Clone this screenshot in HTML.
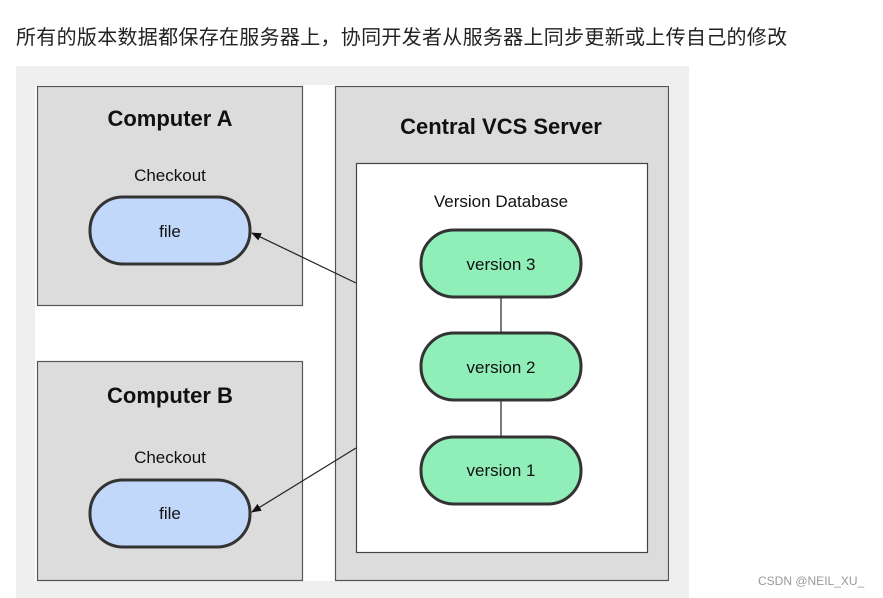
<!DOCTYPE html>
<html><head><meta charset="utf-8"><style>
body{margin:0;width:883px;height:598px;background:#fff;overflow:hidden;position:relative;font-family:"Liberation Sans",Arial,sans-serif}
.t{position:absolute;left:16px;top:21px;font-size:20px;color:#222;font-family:"Liberation Sans","Noto Sans CJK SC",sans-serif;white-space:nowrap;letter-spacing:0.3px}
.wm{position:absolute;left:758px;top:574px;font-size:12px;color:#999}
</style></head><body>
<div class="t">所有的版本数据都保存在服务器上，协同开发者从服务器上同步更新或上传自己的修改</div>
<svg style="position:absolute;left:0;top:0" width="883" height="598">
<defs><marker id="a" markerWidth="10" markerHeight="8" refX="9" refY="4" orient="auto" markerUnits="userSpaceOnUse"><path d="M0,0 L10,4 L0,8z" fill="#111"/></marker></defs>
<rect x="16" y="66" width="673" height="532" fill="#efefef"/>
<rect x="35" y="85" width="635" height="496" fill="#fff"/>
<rect x="37.5" y="86.5" width="265" height="219" fill="#dcdcdc" stroke="#555" stroke-width="1.2"/>
<rect x="37.5" y="361.5" width="265" height="219" fill="#dcdcdc" stroke="#555" stroke-width="1.2"/>
<rect x="335.5" y="86.5" width="333" height="494" fill="#dcdcdc" stroke="#555" stroke-width="1.2"/>
<rect x="356.5" y="163.5" width="291" height="389" fill="#fff" stroke="#444" stroke-width="1.2"/>
<line x1="501" y1="297" x2="501" y2="333" stroke="#333" stroke-width="1.3"/>
<line x1="501" y1="401" x2="501" y2="436" stroke="#333" stroke-width="1.3"/>
<g stroke="#333" stroke-width="3">
<rect x="90" y="197" width="160" height="67" rx="33" fill="#c2d8fb"/>
<rect x="90" y="480" width="160" height="67" rx="33" fill="#c2d8fb"/>
<rect x="421" y="230" width="160" height="67" rx="33" fill="#90efb8"/>
<rect x="421" y="333" width="160" height="67" rx="33" fill="#90efb8"/>
<rect x="421" y="437" width="160" height="67" rx="33" fill="#90efb8"/>
</g>
<line x1="356" y1="283" x2="252" y2="233" stroke="#222" stroke-width="1.2" marker-end="url(#a)"/>
<line x1="356" y1="448" x2="252" y2="512" stroke="#222" stroke-width="1.2" marker-end="url(#a)"/>
<g font-family="Liberation Sans,Arial,sans-serif" text-anchor="middle" fill="#111">
<text x="170" y="126" font-size="22" font-weight="bold">Computer A</text>
<text x="170" y="403" font-size="22" font-weight="bold">Computer B</text>
<text x="501" y="134" font-size="22" font-weight="bold">Central VCS Server</text>
<text x="170" y="181" font-size="17">Checkout</text>
<text x="170" y="463" font-size="17">Checkout</text>
<text x="170" y="237" font-size="17">file</text>
<text x="170" y="519" font-size="17">file</text>
<text x="501" y="207" font-size="17">Version Database</text>
<text x="501" y="270" font-size="17">version 3</text>
<text x="501" y="373" font-size="17">version 2</text>
<text x="501" y="476" font-size="17">version 1</text>
</g>
</svg>
<div class="wm">CSDN @NEIL_XU_</div>
</body></html>
